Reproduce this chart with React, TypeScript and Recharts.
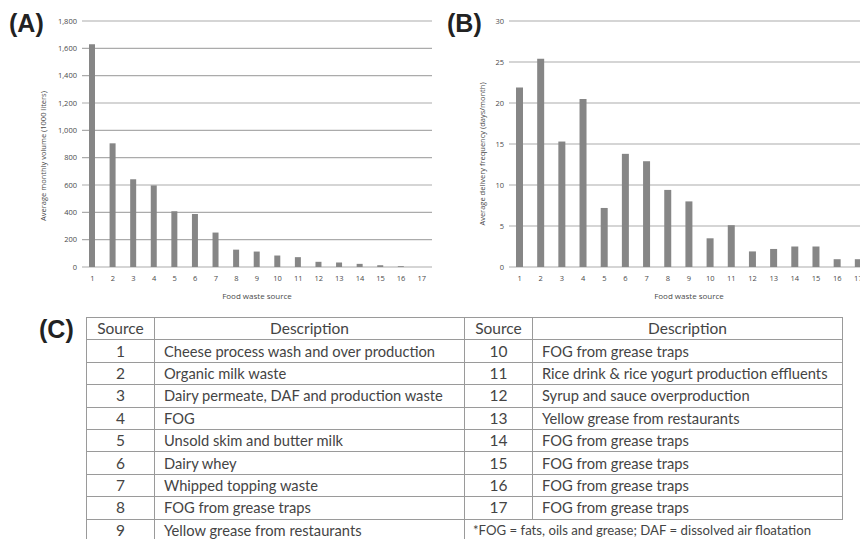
import React from 'react';
import { BarChart, Bar, XAxis, YAxis, CartesianGrid } from 'recharts';

const sources = ['1','2','3','4','5','6','7','8','9','10','11','12','13','14','15','16','17'];
const volume = [1630, 905, 642, 597, 408, 388, 252, 127, 113, 84, 72, 38, 33, 23, 13, 6, 0];
const frequency = [21.9, 25.4, 15.3, 20.5, 7.2, 13.8, 12.9, 9.4, 8.0, 3.5, 5.1, 1.9, 2.2, 2.5, 2.5, 0.95, 0.95];
const volumeTicks = [0, 200, 400, 600, 800, 1000, 1200, 1400, 1600, 1800];
const frequencyTicks = [0, 5, 10, 15, 20, 25, 30];
const descriptions = [
  'Cheese process wash and over production',
  'Organic milk waste',
  'Dairy permeate, DAF and production waste',
  'FOG',
  'Unsold skim and butter milk',
  'Dairy whey',
  'Whipped topping waste',
  'FOG from grease traps',
  'Yellow grease from restaurants',
  'FOG from grease traps',
  'Rice drink & rice yogurt production effluents',
  'Syrup and sauce overproduction',
  'Yellow grease from restaurants',
  'FOG from grease traps',
  'FOG from grease traps',
  'FOG from grease traps',
  'FOG from grease traps',
];
const footnote = '*FOG = fats, oils and grease; DAF = dissolved air floatation';

const dataA = sources.map((s, i) => ({ source: s, value: volume[i] }));
const dataB = sources.map((s, i) => ({ source: s, value: frequency[i] }));

const axisFont = { fontFamily: '"Open Sans", sans-serif', fontSize: 7.5, fill: '#4a4a4a' };
const gridColor = '#ababab';
const barColor = '#868686';

const fmt = (v: number) => v.toLocaleString('en-US');

const cellBorder = '1px solid #9a9a9a';

export default function App() {
  const rows = [];
  for (let i = 0; i < 9; i++) {
    const j = i + 9;
    rows.push({ l: sources[i], ld: descriptions[i], r: j < 17 ? sources[j] : null, rd: j < 17 ? descriptions[j] : null });
  }
  const td = (extra: React.CSSProperties = {}): React.CSSProperties => ({
    border: cellBorder,
    padding: 0,
    height: 21.4,
    lineHeight: '21px',
    whiteSpace: 'nowrap',
    overflow: 'hidden',
    ...extra,
  });
  return (
    <div style={{ position: 'absolute', left: 0, top: 0, width: 860, height: 539, overflow: 'hidden', background: '#fff' }}>
      <div style={{ position: 'absolute', left: 0, top: 0 }}>
        <BarChart width={440} height={300} data={dataA} margin={{ top: 21, right: 8, bottom: 1, left: 0 }}>
          <CartesianGrid vertical={false} stroke={gridColor} strokeWidth={1.2} />
          <XAxis dataKey="source" axisLine={false} tickLine={false} tickSize={6} tickMargin={3} height={32} interval={0}
            tick={axisFont}
            label={{ value: 'Food waste source', position: 'insideBottom', offset: 0, style: { ...axisFont, fontSize: 8 } }} />
          <YAxis domain={[0, 1800]} ticks={volumeTicks} tickFormatter={fmt} axisLine={false} tickLine={false} tickSize={3} tickMargin={2} width={82}
            tick={axisFont}
            label={{ value: 'Average monthly volume (1000 liters)', angle: -90, position: 'center', dx: 2, dy: 12, style: { ...axisFont, fontSize: 7.5, textAnchor: 'middle' } }} />
          <Bar dataKey="value" fill={barColor} barSize={6} isAnimationActive={false} />
        </BarChart>
      </div>
      <div style={{ position: 'absolute', left: 430, top: 0 }}>
        <BarChart width={450} height={300} data={dataB} margin={{ top: 21, right: 11, bottom: 1, left: 0 }}>
          <CartesianGrid vertical={false} stroke={gridColor} strokeWidth={1.2} />
          <XAxis dataKey="source" axisLine={false} tickLine={false} tickSize={6} tickMargin={3} height={32} interval={0}
            tick={axisFont}
            label={{ value: 'Food waste source', position: 'insideBottom', offset: 0, style: { ...axisFont, fontSize: 8 } }} />
          <YAxis domain={[0, 30]} ticks={frequencyTicks} axisLine={false} tickLine={false} tickSize={3} tickMargin={2} width={79}
            tick={axisFont}
            label={{ value: 'Average delivery frequency (days/month)', angle: -90, position: 'center', dx: 13, dy: 10, style: { ...axisFont, fontSize: 7.5, textAnchor: 'middle' } }} />
          <Bar dataKey="value" fill={barColor} barSize={7} isAnimationActive={false} />
        </BarChart>
      </div>
      <svg width={860} height={539} style={{ position: 'absolute', left: 0, top: 0, pointerEvents: 'none' }}>
        <g style={{ fontFamily: '"Liberation Sans", Arial, sans-serif', fontWeight: 700, fontSize: 25, fill: '#222' }}>
          <text x={9} y={32}>(A)</text>
          <text x={447} y={32}>(B)</text>
          <text x={39} y={338}>(C)</text>
        </g>
      </svg>
      <table style={{ position: 'absolute', left: 86, top: 317, borderCollapse: 'collapse', tableLayout: 'fixed', width: 756,
        fontFamily: 'Lato, sans-serif', fontSize: 14.7, color: '#444' }}>
        <colgroup>
          <col style={{ width: 68 }} />
          <col style={{ width: 310 }} />
          <col style={{ width: 68 }} />
          <col style={{ width: 310 }} />
        </colgroup>
        <tbody>
          <tr>
            <td style={td({ textAlign: 'center', fontSize: 15.5 })}>Source</td>
            <td style={td({ textAlign: 'center', fontSize: 15.5 })}>Description</td>
            <td style={td({ textAlign: 'center', fontSize: 15.5 })}>Source</td>
            <td style={td({ textAlign: 'center', fontSize: 15.5 })}>Description</td>
          </tr>
          {rows.map((r, i) => (
            <tr key={i}>
              <td style={td({ textAlign: 'center', fontSize: 15.5 })}>{r.l}</td>
              <td style={td({ paddingLeft: 9 })}>{r.ld}</td>
              {r.r !== null ? (
                <>
                  <td style={td({ textAlign: 'center', fontSize: 15.5 })}>{r.r}</td>
                  <td style={td({ paddingLeft: 9 })}>{r.rd}</td>
                </>
              ) : (
                <td colSpan={2} style={td({ paddingLeft: 8, borderRight: 'none', borderBottom: 'none', fontSize: 13.2 })}>{footnote}</td>
              )}
            </tr>
          ))}
        </tbody>
      </table>
    </div>
  );
}
